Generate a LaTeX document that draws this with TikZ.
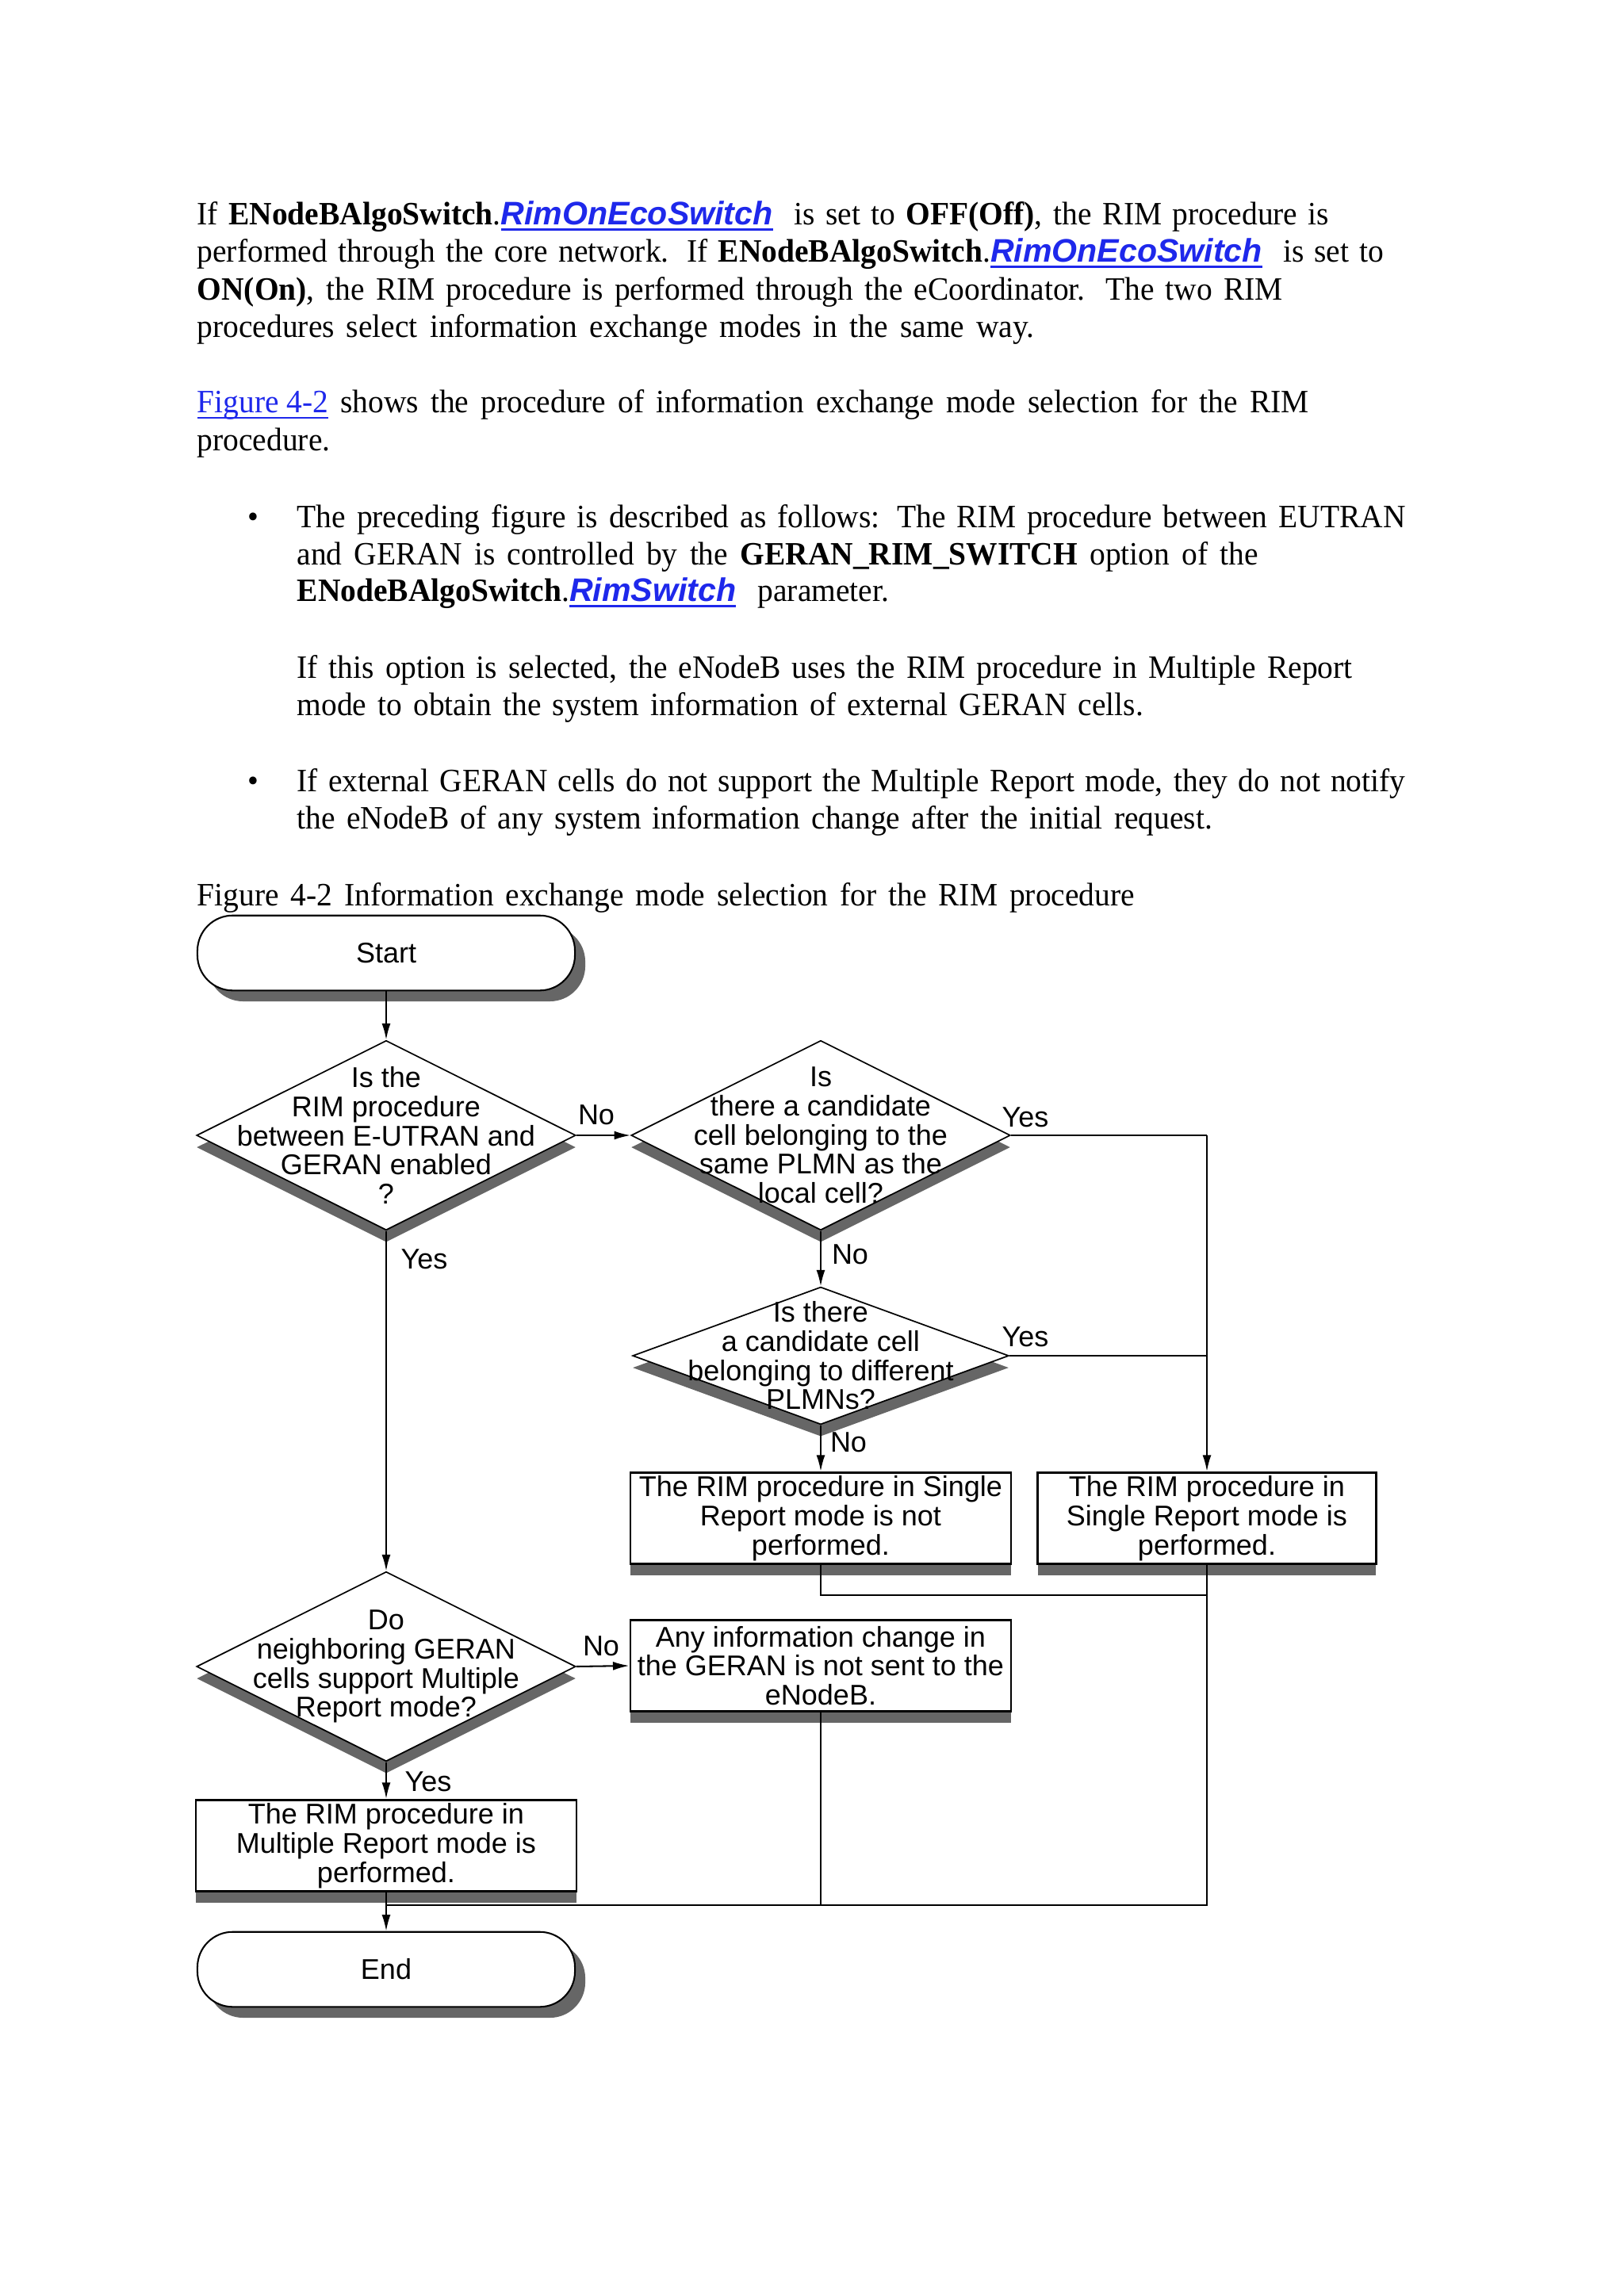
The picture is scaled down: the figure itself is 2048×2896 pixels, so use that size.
\documentclass[tikz,border=0pt]{standalone}
\usepackage{fontspec}
\setmainfont[FakeStretch=0.96]{Liberation Serif}
\newfontfamily\arial{Liberation Sans}
\usetikzlibrary{shapes.geometric,shadows,arrows.meta}
\definecolor{linkblue}{RGB}{30,40,235}
\definecolor{shadegray}{RGB}{102,102,102}
\newcommand{\linkline}[2][0.9pt]{\setbox0\hbox{#2}\rlap{\rule[-2.4pt]{\wd0}{#1}}\box0}
\newcommand{\rimlink}[1]{{\color{linkblue}\linkline{\arial\bfseries\itshape #1}}}

\begin{document}
\begin{tikzpicture}[x=0.0102539cm,y=-0.0102539cm,
    body/.style={anchor=base west,inner sep=0pt,font={\fontsize{12}{13.75}\selectfont}},
    chart/.style={font={\arial\fontsize{10.5}{10.7}\selectfont},align=center},
    term/.style={chart,draw,fill=white,line width=0.6pt,rounded corners=13pt,
        minimum width=138.9pt,minimum height=27.6pt,
        drop shadow={shadow xshift=3.8pt,shadow yshift=-4pt,fill=shadegray,opacity=1}},
    decision/.style={diamond,draw,fill=white,line width=0.5pt,inner sep=0pt,
        minimum width=139.5pt,minimum height=69.8pt,
        drop shadow={shadow xshift=0pt,shadow yshift=-4.4pt,fill=shadegray,opacity=1}},
    procbox/.style={chart,draw,fill=white,line width=0.8pt,inner sep=1pt,
        minimum width=140.1pt,minimum height=33.7pt,
        drop shadow={shadow xshift=0pt,shadow yshift=-4.2pt,fill=shadegray,opacity=1}},
    tag/.style={chart,inner sep=0pt},
    flow/.style={line width=0.6pt},
    arr/.style={flow,-{Latex[length=6pt,width=3.2pt]}}]
    \useasboundingbox (0,0) rectangle (2048,2896);

    % text above the figure
    \node[body] (p1) at (248,283) {\makebox[416.5pt][s]{If \textbf{ENodeBAlgoSwitch}.\rimlink{RimOnEcoSwitch}\ \ is set to \textbf{OFF(Off)}, the RIM procedure is}};
    \node[body] (p2) at (248,330) {\makebox[436.6pt][s]{performed through the core network. If \textbf{ENodeBAlgoSwitch}.\rimlink{RimOnEcoSwitch}\ \ is set to}};
    \node[body] (p3) at (248,378) {\makebox[399.4pt][s]{\textbf{ON(On)}, the RIM procedure is performed through the eCoordinator. The two RIM}};
    \node[body] (p4) at (248,425) {\makebox[308pt][s]{procedures select information exchange modes in the same way.}};
    \node[body] (p5) at (248,520) {\makebox[409pt][s]{{\color{linkblue}\linkline[0.6pt]{Figure 4-2}} shows the procedure of information exchange mode selection for the RIM}};
    \node[body] (p6) at (248,568) {procedure.};

    \node[body] (dot1) at (312,665) {\textbullet};
    \node[body] (b1) at (374,665) {\makebox[407.8pt][s]{The preceding figure is described as follows: The RIM procedure between EUTRAN}};
    \node[body] (b2) at (374,712) {\makebox[353.7pt][s]{and GERAN is controlled by the \textbf{GERAN\_RIM\_SWITCH} option of the}};
    \node[body] (b3) at (374,758) {\makebox[217.8pt][s]{\textbf{ENodeBAlgoSwitch}.\rimlink{RimSwitch}\ \ parameter.}};
    \node[body] (b4) at (374,855) {\makebox[388.3pt][s]{If this option is selected, the eNodeB uses the RIM procedure in Multiple Report}};
    \node[body] (b5) at (374,902) {\makebox[311.4pt][s]{mode to obtain the system information of external GERAN cells.}};
    \node[body] (dot2) at (312,998) {\textbullet};
    \node[body] (b6) at (374,998) {\makebox[407.8pt][s]{If external GERAN cells do not support the Multiple Report mode, they do not notify}};
    \node[body] (b7) at (374,1045) {\makebox[336.7pt][s]{the eNodeB of any system information change after the initial request.}};

    \node[body] (caption) at (248,1142) {\makebox[344.9pt][s]{Figure 4-2 Information exchange mode selection for the RIM procedure}};

    % flowchart
    \node[term] (start) at (487,1202) {Start};
    \node[decision] (d1) at (487,1432) {};
    \node[tag] (d1t) at (d1) {Is the\\RIM procedure\\between E-UTRAN and\\GERAN enabled\\?};
    \node[decision] (d2) at (1035,1432) {};
    \node[tag] (d2t) at (d2) {Is\\there a candidate\\cell belonging to the\\same PLMN as the\\local cell?};
    \node[decision,minimum width=138.4pt,minimum height=50.6pt] (d3) at (1035,1710) {};
    \node[tag] (d3t) at (d3) {Is there\\a candidate cell\\belonging to different\\PLMNs?};
    \node[procbox] (nosingle) at (1035,1915) {The RIM procedure in Single\\Report mode is not\\performed.};
    \node[procbox,minimum width=124.4pt] (single) at (1522,1915) {The RIM procedure in\\Single Report mode is\\performed.};
    \node[decision] (d4) at (487,2102) {};
    \node[tag] (d4t) at (d4) {Do\\neighboring GERAN\\cells support Multiple\\Report mode?};
    \node[procbox] (nochange) at (1035,2101) {Any information change in\\the GERAN is not sent to the\\eNodeB.};
    \node[procbox] (multi) at (487,2328) {The RIM procedure in\\Multiple Report mode is\\performed.};
    \node[term] (end) at (487,2484) {End};

    \coordinate (yesturn) at (1522,1432);
    \coordinate (join1) at (1522,1710);
    \coordinate (join2) at (1522,2012);
    \coordinate (bottomR) at (1522,2403);
    \coordinate (collect) at (487,2403);

    \draw[arr] (start) -- (d1);
    \draw[arr] (d1.east) -- (d2.west);
    \draw[arr] (d1.south) -- (d4.north);
    \draw[arr] (d2.south) -- (d3.north);
    \draw[flow] (d2.east) -- (yesturn);
    \draw[arr] (yesturn) -- (single.north);
    \draw[flow] (d3.east) -- (join1);
    \draw[arr] (d3.south) -- (nosingle.north);
    \draw[flow] (nosingle.south) |- (join2);
    \draw[flow] (single.south) -- (bottomR) -- (collect);
    \draw[flow] (nochange.south) -- (nochange.south |- collect);
    \draw[arr] (d4.east) -- (nochange.west);
    \draw[arr] (d4.south) -- (multi.north);
    \draw[arr] (multi.south) -- (end.north);

    % branch labels
    \node[tag] (no1) at (752,1406) {No};
    \node[tag] (yes2) at (1293,1409) {Yes};
    \node[tag] (yes1) at (535,1588) {Yes};
    \node[tag] (no2) at (1072,1582) {No};
    \node[tag] (yes3) at (1293,1686) {Yes};
    \node[tag] (no3) at (1070,1819) {No};
    \node[tag] (no4) at (758,2076) {No};
    \node[tag] (yes4) at (540,2247) {Yes};
\end{tikzpicture}
\end{document}
